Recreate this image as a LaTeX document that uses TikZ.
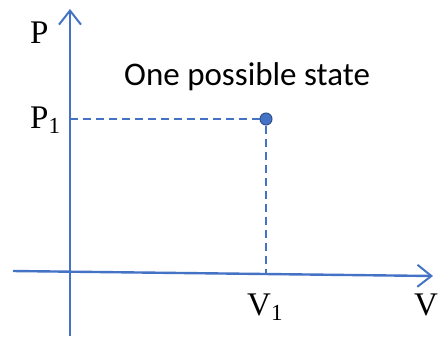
\documentclass[tikz,border=0pt]{standalone}
\usepackage{fontspec}
\setmainfont{Liberation Serif}
\newfontfamily\labelsans{Carlito}
\usetikzlibrary{arrows.meta}
\definecolor{axisblue}{HTML}{4472C4}
\definecolor{dotrim}{HTML}{2F528F}
\tikzset{
  axis/.style={draw=axisblue,line width=2.4pt,-{Straight Barb[length=14pt,width=22pt,line width=2pt]}},
  guide/.style={draw=axisblue,line width=2pt,dash pattern=on 8pt off 5pt},
  lbl/.style={font=\fontsize{33}{33}\selectfont,inner sep=0pt,anchor=base west},
}
\newcommand{\sub}[1]{\raisebox{-5pt}{\fontsize{23}{23}\selectfont #1}}
\begin{document}
\begin{tikzpicture}[x=1pt,y=-1pt]
\useasboundingbox (0,0) rectangle (443,338);
% axes
\coordinate (pbot) at (70,336);
\coordinate (ptop) at (70,9);
\coordinate (vleft) at (13,271);
\coordinate (vright) at (433,276);
\draw[axis] (pbot) -- (ptop);
\draw[axis] (vleft) -- (vright);
% the state and its projections
\coordinate (p1) at (70,119);
\coordinate (v1) at (266,274);
\node[circle,fill=axisblue,draw=dotrim,line width=1pt,inner sep=0pt,minimum size=12pt] (state) at (266,119) {};
\draw[guide] (p1) -- (state.west);
\draw[guide] (state.south) -- (v1);
% labels
\node[lbl] (plbl) at (30,43) {P};
\node[lbl] (p1lbl) at (30,128) {P\sub{1}};
\node[lbl] (v1lbl) at (247,315) {V\sub{1}};
\node[lbl] (vlbl) at (414,315) {V};
\node[font=\labelsans\fontsize{33}{33}\selectfont,inner sep=0pt,anchor=base west] (caption) at (124,85) {One possible state};
\end{tikzpicture}
\end{document}
